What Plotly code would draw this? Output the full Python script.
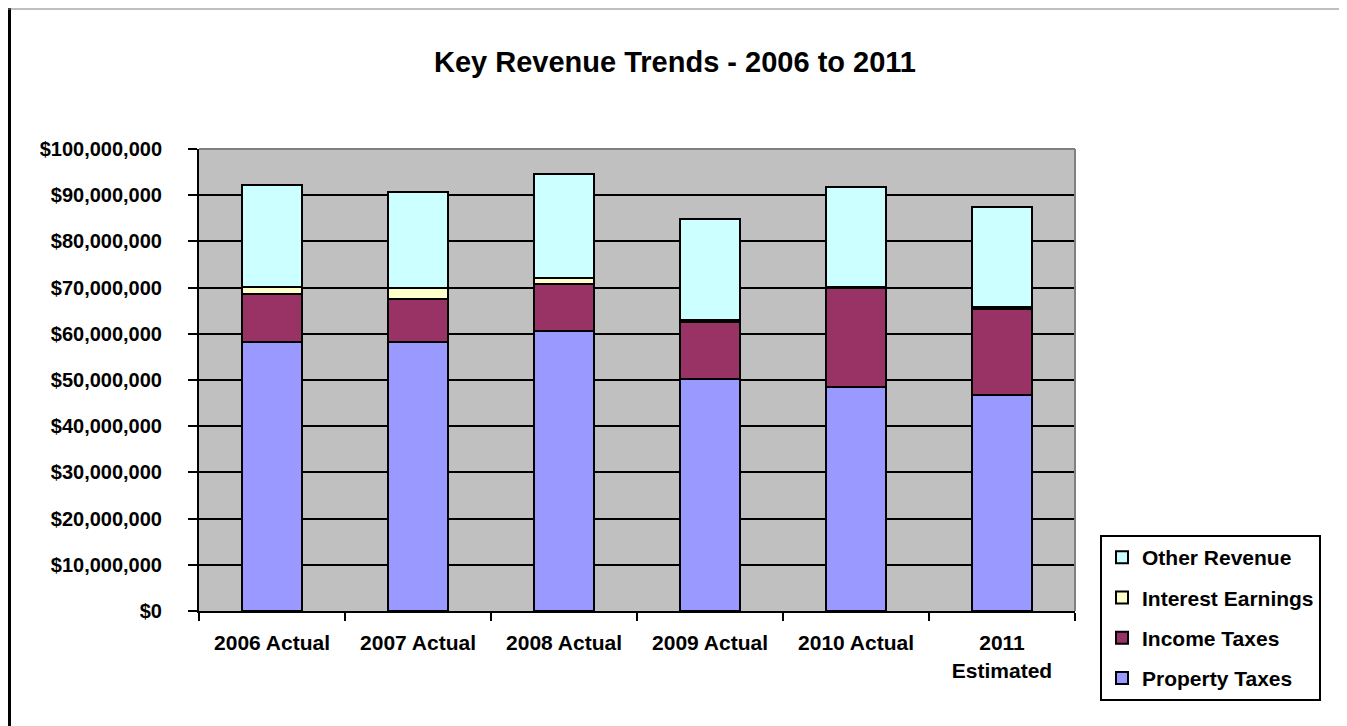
import plotly.graph_objects as go

categories = ["2006 Actual", "2007 Actual", "2008 Actual", "2009 Actual", "2010 Actual", "2011<br>Estimated"]
property_taxes = [58.2, 58.3, 60.5, 50.3, 48.4, 46.7]   # $ millions
income_taxes = [10.5, 9.3, 10.3, 12.3, 21.6, 18.7]
interest_earnings = [1.5, 2.4, 1.3, 0.4, 0.2, 0.3]
other_revenue = [22.0, 20.8, 22.4, 21.8, 21.6, 21.8]

series = [
    ("Property Taxes", property_taxes, "#9999FF"),
    ("Income Taxes", income_taxes, "#993366"),
    ("Interest Earnings", interest_earnings, "#FFFFCC"),
    ("Other Revenue", other_revenue, "#CCFFFF"),
]

font_family = "Liberation Sans, Arial, sans-serif"

fig = go.Figure()
for i, (name, vals, color) in enumerate(series):
    fig.add_trace(go.Bar(
        x=categories,
        y=[v * 1_000_000 for v in vals],
        name=name,
        legendgroup=name,
        legendrank=len(series) - i,
        marker=dict(color=color, line=dict(color="black", width=2)),
        width=0.41,
    ))

# page is offset by the browser's 8px body margin
OFF = 8
W, H = 1347 - OFF, 726 - OFF
L, R, T, B = 199 - OFF, W - (1075 - OFF), 149 - OFF, H - (611 - OFF)
pw, ph = W - L - R, H - T - B

def px_x(p):
    return (p - OFF - L) / pw

def px_y(p):
    return (H - B - (p - OFF)) / ph

tick_font = dict(size=20, family=font_family, color="black", weight="bold")

fig.update_layout(
    width=W, height=H,
    barmode="stack",
    paper_bgcolor="white",
    plot_bgcolor="#C0C0C0",
    margin=dict(l=L, r=R, t=T, b=B),
    font=dict(family=font_family, color="black"),
    title=dict(
        text="<b>Key Revenue Trends - 2006 to 2011</b>",
        x=(675 - OFF) / W, xanchor="center", xref="container",
        y=1 - (62 - OFF) / H, yanchor="middle", yref="container",
        font=dict(size=29, family=font_family, color="black"),
    ),
    xaxis=dict(
        showline=True, linecolor="black", linewidth=2,
        ticks="outside", ticklen=8, tickcolor="black", tickwidth=2,
        tickson="boundaries",
        ticklabelstandoff=12,
        tickfont=dict(size=21, family=font_family, color="black", weight="bold"),
        showgrid=False,
    ),
    yaxis=dict(
        range=[0, 100_000_000],
        dtick=10_000_000,
        tickprefix="$", tickformat=",.0f",
        showline=True, linecolor="black", linewidth=2,
        ticks="outside", ticklen=9, tickcolor="black", tickwidth=2,
        ticklabelstandoff=22,
        showgrid=True, gridcolor="black", gridwidth=2,
        tickfont=tick_font,
        zeroline=False,
    ),
    legend=dict(
        traceorder="grouped",
        x=px_x(1100), xanchor="left",
        y=px_y(535), yanchor="top",
        bgcolor="white", bordercolor="black", borderwidth=2,
        font=dict(size=21, family=font_family, color="black", weight="bold"),
        itemwidth=30,
        tracegroupgap=10,
    ),
    showlegend=True,
)

# outer chart frame: left & right black, top thin gray
fig.add_shape(type="line", xref="paper", yref="paper",
              x0=px_x(9.5), x1=px_x(9.5), y0=px_y(730), y1=px_y(7),
              line=dict(color="black", width=3))
fig.add_shape(type="line", xref="paper", yref="paper",
              x0=px_x(1342), x1=px_x(1342), y0=px_y(730), y1=px_y(7),
              line=dict(color="black", width=3))
fig.add_shape(type="line", xref="paper", yref="paper",
              x0=px_x(8), x1=px_x(1342), y0=px_y(9), y1=px_y(9),
              line=dict(color="#808080", width=1))
# plot-area top / right border (gray)
fig.add_shape(type="line", xref="paper", yref="paper", x0=0, x1=1, y0=1, y1=1,
              line=dict(color="#808080", width=2))
fig.add_shape(type="line", xref="paper", yref="paper", x0=1, x1=1, y0=0, y1=1,
              line=dict(color="#808080", width=2))

fig.write_html("out.html")
